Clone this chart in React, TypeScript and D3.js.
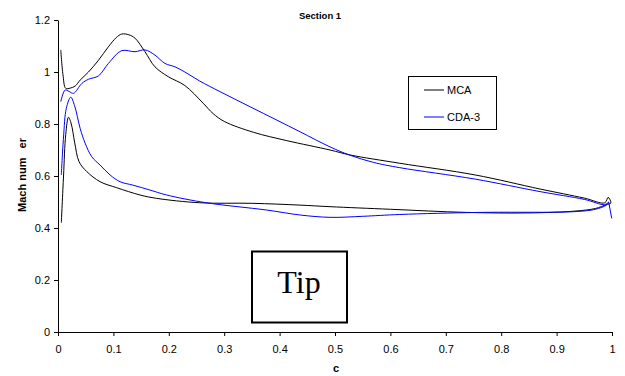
import * as d3 from "d3";
import React, { useEffect, useRef } from "react";

// Mach number along the chord, upper surface (LE -> TE) and lower surface (TE -> LE)
const mcaUpper: [number, number][] = [
  [0.005, 1.085], [0.009, 0.99], [0.014, 0.937], [0.022, 0.938], [0.031, 0.946],
  [0.04, 0.969], [0.055, 1.0], [0.073, 1.045], [0.091, 1.097], [0.105, 1.132],
  [0.115, 1.146], [0.128, 1.143], [0.139, 1.13], [0.157, 1.078], [0.175, 1.02],
  [0.199, 0.982], [0.229, 0.948], [0.262, 0.88], [0.28, 0.84], [0.3, 0.81],
  [0.353, 0.768], [0.413, 0.736], [0.491, 0.7], [0.527, 0.681], [0.617, 0.649],
  [0.753, 0.604], [0.87, 0.55], [0.95, 0.515], [0.987, 0.497], [0.993, 0.518],
  [0.998, 0.496],
];
const mcaLower: [number, number][] = [
  [0.99, 0.49], [0.97, 0.475], [0.933, 0.465], [0.85, 0.458], [0.737, 0.46],
  [0.6, 0.472], [0.491, 0.482], [0.437, 0.488], [0.35, 0.495], [0.256, 0.497],
  [0.178, 0.514], [0.148, 0.527], [0.106, 0.555], [0.076, 0.578], [0.052, 0.617],
  [0.038, 0.655], [0.03, 0.73], [0.024, 0.8], [0.019, 0.826], [0.014, 0.76],
  [0.01, 0.6], [0.006, 0.42],
];
const cdaUpper: [number, number][] = [
  [0.005, 0.886], [0.013, 0.931], [0.02, 0.925], [0.028, 0.918], [0.043, 0.956],
  [0.055, 0.972], [0.073, 0.985], [0.091, 1.033], [0.115, 1.082], [0.139, 1.078],
  [0.157, 1.085], [0.175, 1.065], [0.193, 1.033], [0.211, 1.02], [0.229, 1.0],
  [0.256, 0.965], [0.292, 0.925], [0.347, 0.866], [0.395, 0.815], [0.437, 0.77],
  [0.491, 0.712], [0.527, 0.68], [0.57, 0.652], [0.617, 0.632], [0.753, 0.588],
  [0.87, 0.54], [0.95, 0.51], [0.987, 0.49], [0.994, 0.5],
];
const cdaLower: [number, number][] = [
  [0.99, 0.488], [0.97, 0.472], [0.933, 0.463], [0.762, 0.46], [0.617, 0.452],
  [0.55, 0.445], [0.491, 0.441], [0.437, 0.45], [0.377, 0.469], [0.268, 0.497],
  [0.196, 0.527], [0.166, 0.546], [0.135, 0.565], [0.112, 0.578], [0.094, 0.604],
  [0.076, 0.642], [0.061, 0.674], [0.049, 0.726], [0.04, 0.783], [0.03, 0.87],
  [0.023, 0.903], [0.015, 0.86], [0.01, 0.75], [0.006, 0.604],
];
const cdaTail: [number, number][] = [[0.994, 0.5], [0.9995, 0.437]];

const xTicks = [0, 0.1, 0.2, 0.3, 0.4, 0.5, 0.6, 0.7, 0.8, 0.9, 1];
const yTicks = [0, 0.2, 0.4, 0.6, 0.8, 1, 1.2];

const series = [
  { name: "MCA", color: "#000000", points: [...mcaUpper, ...mcaLower] },
  { name: "CDA-3", color: "#0000ff", points: [...cdaUpper, ...cdaLower] },
];

export default function App() {
  const svgRef = useRef<SVGSVGElement>(null);

  useEffect(() => {
    const svg = d3.select(svgRef.current);
    svg.selectAll("*").remove();

    const width = 625;
    const height = 376;
    const left = 58, right = 612, top = 20, bottom = 332;
    const font = "'Liberation Sans', Arial, sans-serif";

    const x = d3.scaleLinear().domain([0, 1]).range([left, right]);
    const y = d3.scaleLinear().domain([0, 1.2]).range([bottom, top]);

    svg.append("rect").attr("width", width).attr("height", height).attr("fill", "#fff");

    const fmt = (d: number) => String(+d.toFixed(1));

    // Axes
    const xAxis = svg.append("g")
      .attr("transform", `translate(0,${bottom})`)
      .call(d3.axisBottom(x).tickValues(xTicks).tickSize(4).tickSizeOuter(0).tickFormat(fmt as any));
    const yAxis = svg.append("g")
      .attr("transform", `translate(${left},0)`)
      .call(d3.axisLeft(y).tickValues(yTicks).tickSize(4).tickSizeOuter(0).tickFormat(fmt as any));
    [xAxis, yAxis].forEach(a => {
      a.selectAll("path, line").attr("stroke", "#000").attr("stroke-width", 1);
      a.selectAll("text").attr("fill", "#000").style("font-family", font).style("font-size", "11px");
    });
    xAxis.selectAll("text").attr("dy", null).attr("y", 21);
    yAxis.selectAll("text").attr("x", -8).attr("dy", "0.35em");

    // Lines
    const line = d3.line<[number, number]>()
      .x(d => x(d[0]))
      .y(d => y(d[1]))
      .curve(d3.curveCatmullRom.alpha(0.5));

    series.forEach(s => {
      svg.append("path")
        .datum(s.points)
        .attr("fill", "none")
        .attr("stroke", s.color)
        .attr("stroke-width", 1)
        .attr("d", line);
    });
    svg.append("path")
      .datum(cdaTail)
      .attr("fill", "none")
      .attr("stroke", "#0000ff")
      .attr("stroke-width", 1)
      .attr("d", d3.line<[number, number]>().x(d => x(d[0])).y(d => y(d[1])));

    // Title and axis labels
    svg.append("text")
      .attr("x", 320)
      .attr("y", 19)
      .attr("text-anchor", "middle")
      .style("font-family", font)
      .style("font-size", "9.5px")
      .style("font-weight", "bold")
      .text("Section 1");

    svg.append("text")
      .attr("x", 336)
      .attr("y", 372)
      .attr("text-anchor", "middle")
      .style("font-family", font)
      .style("font-size", "11px")
      .style("font-weight", "bold")
      .text("c");

    svg.append("text")
      .attr("transform", "translate(26,175) rotate(-90)")
      .attr("text-anchor", "middle")
      .style("font-family", font)
      .style("font-size", "11px")
      .style("font-weight", "bold")
      .style("white-space", "pre")
      .text("Mach num   er");

    // Legend
    const legend = svg.append("g");
    legend.append("rect")
      .attr("x", 408.5).attr("y", 76.5).attr("width", 88).attr("height", 53)
      .attr("fill", "#fff").attr("stroke", "#000").attr("stroke-width", 1);
    series.forEach((s, i) => {
      const ly = 90 + i * 27;
      legend.append("line")
        .attr("x1", 424).attr("x2", 444).attr("y1", ly).attr("y2", ly)
        .attr("stroke", s.color).attr("stroke-width", 1);
      legend.append("text")
        .attr("x", 447).attr("y", ly + 4)
        .style("font-family", font)
        .style("font-size", "11px")
        .text(s.name);
    });

    // Tip label box
    svg.append("rect")
      .attr("x", 252).attr("y", 251.5).attr("width", 95).attr("height", 71)
      .attr("fill", "#fff").attr("stroke", "#000").attr("stroke-width", 2);
    svg.append("text")
      .attr("x", 299)
      .attr("y", 293)
      .attr("text-anchor", "middle")
      .style("font-family", "'Liberation Serif', 'Times New Roman', serif")
      .style("font-size", "32px")
      .text("Tip");
  }, []);

  return (
    <svg ref={svgRef} width={625} height={376}
      style={{ position: "absolute", left: 0, top: 0, display: "block" }}></svg>
  );
}
